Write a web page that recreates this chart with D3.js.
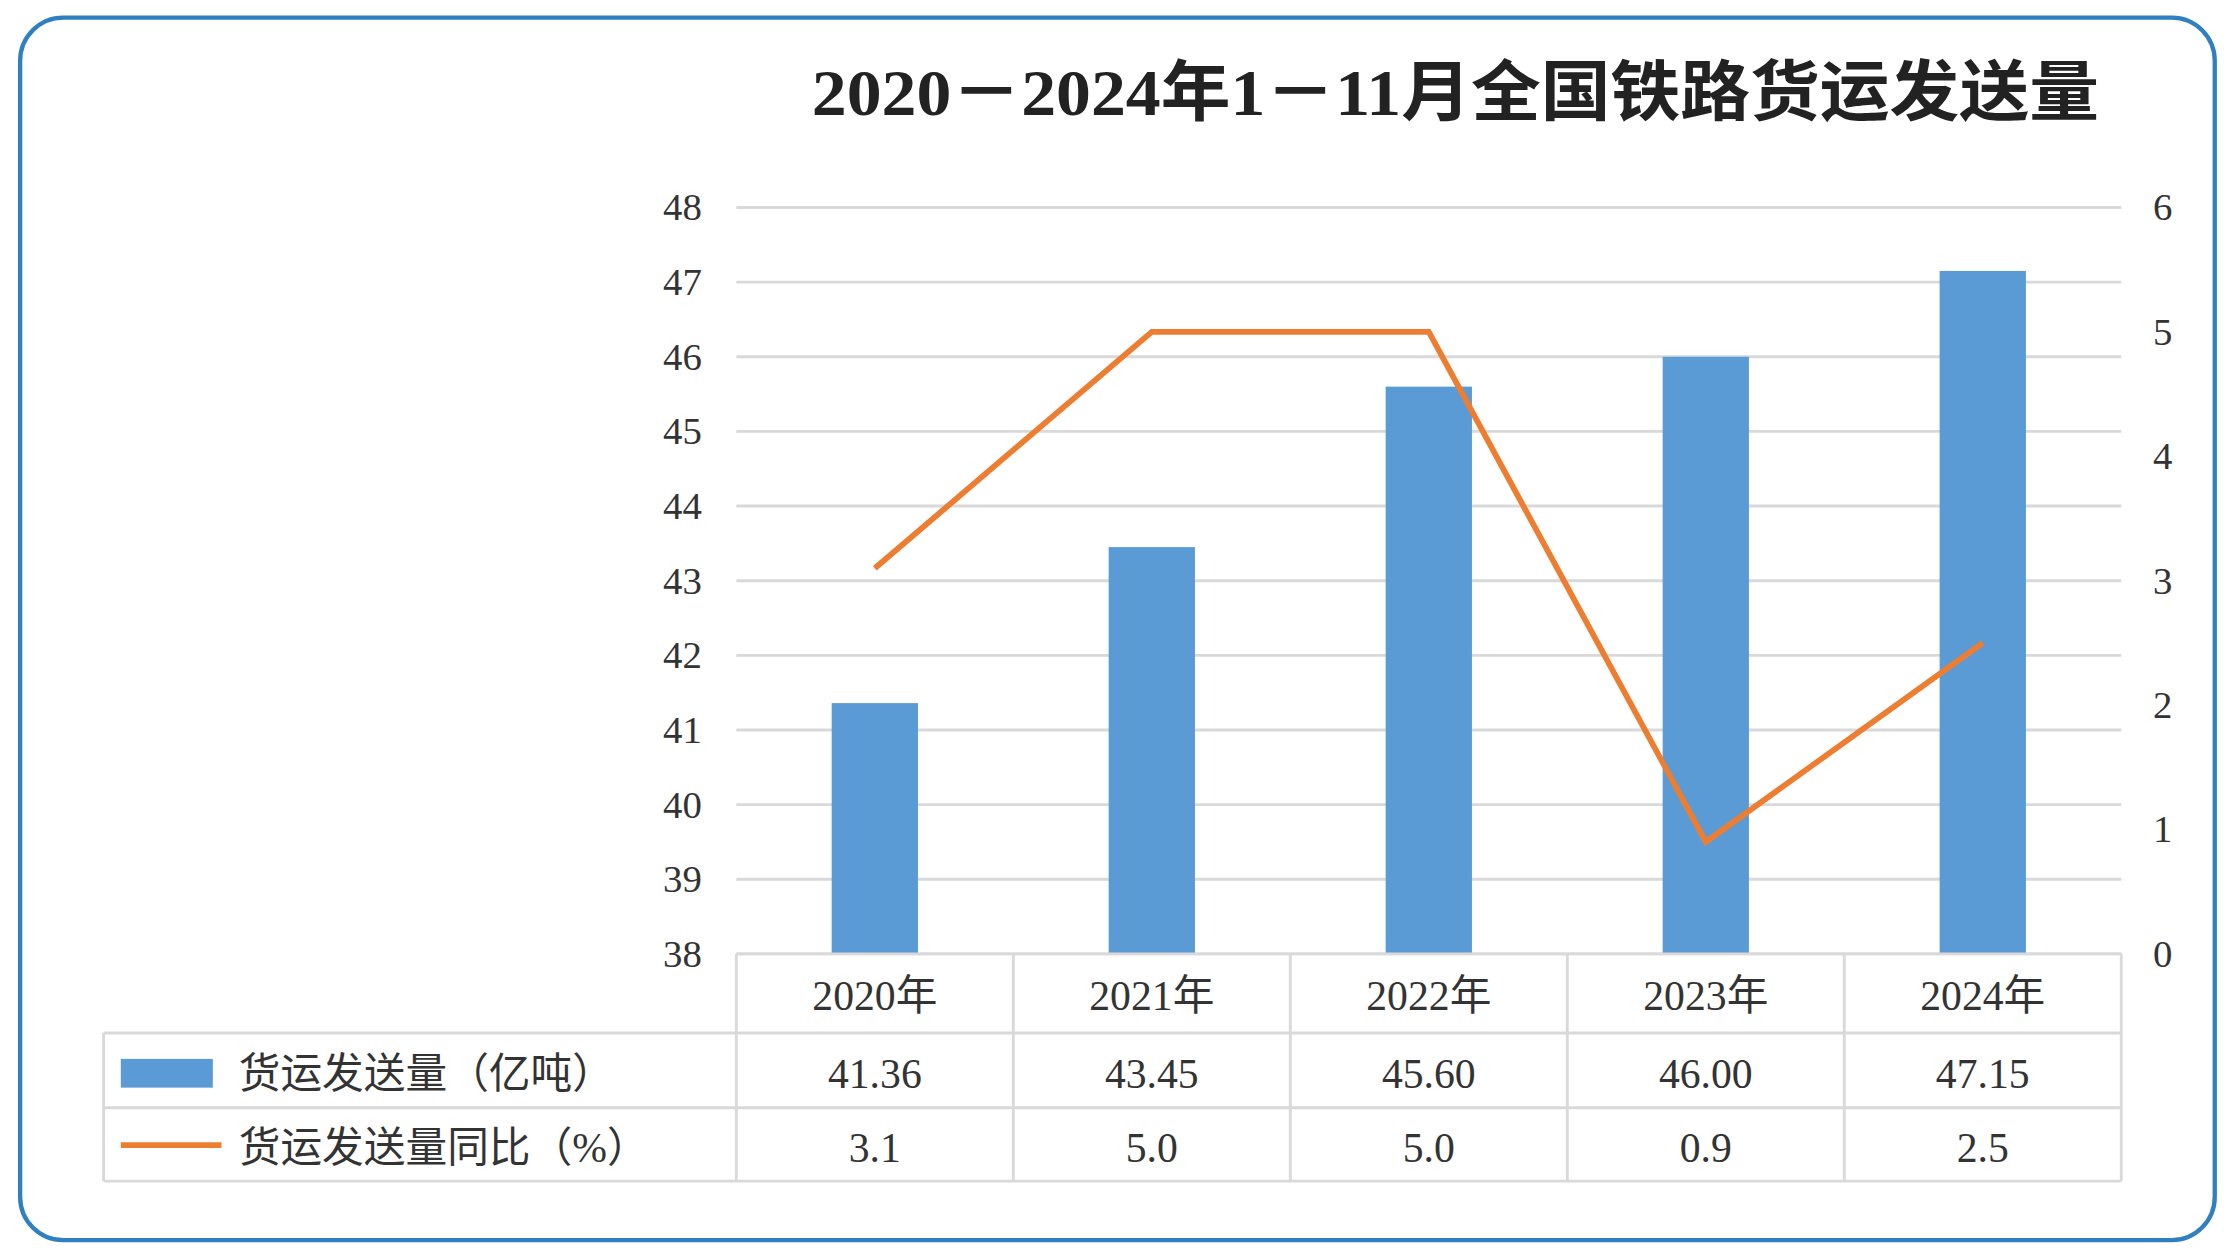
<!DOCTYPE html><html><head><meta charset="utf-8"><script src="https://cdn.jsdelivr.net/npm/d3@7"></script>
<style>body{margin:0;background:#fff}text{font-family:"Liberation Serif","Noto Sans CJK SC",serif}</style></head><body>
<svg id="c" width="2232" height="1252" viewBox="0 0 1552 870"></svg>
<script>
const categories=["2020年","2021年","2022年","2023年","2024年"];
const volume=[41.36,43.45,45.60,46.00,47.15];
const growth=[3.1,5.0,5.0,0.9,2.5];
const volumeLabels=["41.36","43.45","45.60","46.00","47.15"];
const growthLabels=["3.1","5.0","5.0","0.9","2.5"];
const leftTicks=[38,39,40,41,42,43,44,45,46,47,48];
const rightTicks=[0,1,2,3,4,5,6];
const svg=d3.select("#c");
svg.append("rect").attr("x",14).attr("y",12).attr("width",1526).attr("height",850).attr("rx",30).attr("fill","#fff").attr("stroke","#2f7fc1").attr("stroke-width",3);
svg.append("text").attr("x",1012).attr("y",80).attr("text-anchor","middle").attr("font-size",46).attr("font-weight","bold").attr("textLength",895).attr("lengthAdjust","spacingAndGlyphs").attr("fill","#222").text("2020－2024年1－11月全国铁路货运发送量");
const L=512,R=1475,T=144,B=663;
const x=d3.scaleBand().domain(categories).range([L,R]);
const y=d3.scaleLinear().domain([38,48]).range([B,T]);
const y2=d3.scaleLinear().domain([0,6]).range([B,T]);
svg.append("g").selectAll("line").data(leftTicks).join("line").attr("x1",L).attr("x2",R).attr("y1",d=>y(d)).attr("y2",d=>y(d)).attr("stroke","#d9d9d9").attr("stroke-width",2);
svg.append("g").selectAll("text").data(leftTicks).join("text").attr("x",488).attr("y",d=>y(d)+9).attr("text-anchor","end").attr("font-size",27).attr("fill","#333").text(d=>d);
svg.append("g").selectAll("text").data(rightTicks).join("text").attr("x",1497).attr("y",d=>y2(d)+9).attr("font-size",27).attr("fill","#333").text(d=>d);
svg.append("g").selectAll("rect").data(volume).join("rect").attr("x",(d,i)=>x(categories[i])+x.bandwidth()/2-30).attr("width",60).attr("y",d=>y(d)).attr("height",d=>B-y(d)).attr("fill","#5b9bd5");
const cx=i=>x(categories[i])+x.bandwidth()/2;
svg.append("path").datum(growth).attr("d",d3.line().x((d,i)=>cx(i)).y(d=>y2(d))).attr("fill","none").attr("stroke","#ed7d31").attr("stroke-width",4);
const g=svg.append("g").attr("stroke","#d9d9d9").attr("stroke-width",2);
g.append("line").attr("x1",L).attr("x2",R).attr("y1",663).attr("y2",663);
[718,770,821].forEach(v=>g.append("line").attr("x1",72).attr("x2",R).attr("y1",v).attr("y2",v));
categories.forEach((c,i)=>g.append("line").attr("x1",x(c)).attr("x2",x(c)).attr("y1",663).attr("y2",821));
g.append("line").attr("x1",R).attr("x2",R).attr("y1",663).attr("y2",821);
g.append("line").attr("x1",72).attr("x2",72).attr("y1",718).attr("y2",821);
const txt=(arr,yy)=>svg.append("g").selectAll("text").data(arr).join("text").attr("x",(d,i)=>cx(i)).attr("y",yy).attr("text-anchor","middle").attr("font-size",29).attr("fill","#333").text(d=>d);
txt(categories,702);txt(volumeLabels,756);txt(growthLabels,808);
svg.append("rect").attr("x",84).attr("y",736).attr("width",64).attr("height",20).attr("fill","#5b9bd5");
svg.append("line").attr("x1",84).attr("x2",154).attr("y1",796).attr("y2",796).attr("stroke","#ed7d31").attr("stroke-width",4);
svg.append("text").attr("x",166).attr("y",756).attr("font-size",29).attr("fill","#333").text("货运发送量（亿吨）");
svg.append("text").attr("x",166).attr("y",808).attr("font-size",29).attr("fill","#333").text("货运发送量同比（%）");
</script></body></html>
